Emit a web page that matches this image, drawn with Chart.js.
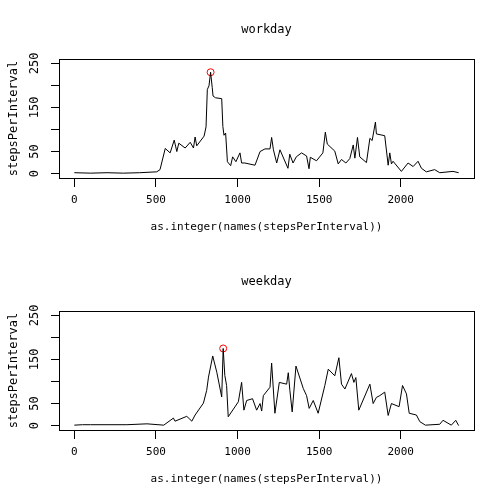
<!DOCTYPE html>
<html>
<head>
<script src="https://cdn.jsdelivr.net/npm/chart.js@4"></script>
<style>
body { margin: 0; background: #fff; }
.wrap { position: absolute; left: 0; width: 504px; height: 252px; }
</style>
</head>
<body>
<div class="wrap" style="top:0"><canvas id="c1"></canvas></div>
<div class="wrap" style="top:252px"><canvas id="c2"></canvas></div>
<script>
const FONT = "'DejaVu Sans Mono', monospace";

// interval ids and average steps
const workdayX = [0, 100, 200, 300, 400, 505, 525, 557, 587, 612, 628, 640, 679, 710, 730, 740, 750, 795, 807, 815, 825, 835, 845, 850, 865, 903, 910, 917, 927, 938, 958, 970, 990, 1015, 1025, 1045, 1107, 1138, 1168, 1199, 1209, 1220, 1240, 1260, 1309, 1320, 1340, 1360, 1392, 1423, 1438, 1446, 1484, 1523, 1538, 1550, 1596, 1617, 1637, 1664, 1688, 1709, 1719, 1735, 1749, 1790, 1811, 1825, 1845, 1851, 1902, 1923, 1933, 1943, 1953, 2004, 2045, 2076, 2106, 2127, 2157, 2208, 2239, 2320, 2355];
const workdayY = [2, 1, 2, 1, 2, 4, 9, 57, 47, 76, 50, 69, 58, 71, 58, 83, 63, 85, 106, 191, 199, 230, 195, 176, 172, 170, 107, 87, 92, 27, 18, 38, 27, 47, 24, 24, 19, 50, 56, 56, 82, 54, 24, 54, 12, 44, 24, 38, 47, 40, 11, 37, 29, 47, 94, 67, 51, 22, 32, 24, 34, 65, 35, 82, 38, 25, 80, 75, 117, 90, 86, 19, 47, 22, 28, 5, 24, 16, 28, 12, 4, 9, 2, 5, 2];
const weekdayX = [0, 50, 100, 200, 322, 445, 548, 607, 617, 689, 720, 740, 791, 811, 822, 848, 873, 903, 912, 922, 933, 943, 1005, 1025, 1039, 1056, 1092, 1117, 1138, 1148, 1158, 1199, 1209, 1229, 1256, 1301, 1311, 1321, 1335, 1358, 1403, 1423, 1439, 1464, 1494, 1535, 1556, 1596, 1621, 1637, 1658, 1698, 1713, 1725, 1743, 1811, 1831, 1851, 1872, 1902, 1923, 1943, 1990, 2011, 2035, 2052, 2096, 2117, 2151, 2239, 2259, 2310, 2337, 2355];
const weekdayY = [1, 2, 2, 2, 2, 4, 1, 17, 10, 21, 10, 24, 51, 80, 110, 158, 121, 65, 175, 114, 91, 20, 54, 98, 35, 57, 61, 35, 50, 33, 68, 87, 142, 28, 98, 94, 120, 79, 31, 135, 84, 68, 39, 57, 28, 91, 128, 113, 154, 94, 83, 118, 98, 109, 35, 94, 50, 64, 68, 76, 23, 50, 43, 91, 72, 28, 24, 9, 1, 3, 12, 1, 12, 0];
const xTicks = [0, 500, 1000, 1500, 2000];
const yLabels = [0, 50, 150, 250];

const rFrame = {
    id: 'rFrame',
    afterDraw(chart) {
        const ctx = chart.ctx, a = chart.chartArea, y = chart.scales.y;
        ctx.save();
        ctx.strokeStyle = '#000';
        ctx.lineWidth = 1;
        ctx.strokeRect(a.left + 0.5, a.top + 0.5, a.right - a.left, a.bottom - a.top);
        ctx.fillStyle = '#000';
        ctx.font = '12px ' + FONT;
        ctx.textAlign = 'center';
        ctx.textBaseline = 'middle';
        ctx.fillText(chart.options.plugins.rTitle, (a.left + a.right) / 2, a.top - 29);
        yLabels.forEach(v => {
            ctx.save();
            ctx.translate(a.left - 24, y.getPixelForValue(v));
            ctx.rotate(-Math.PI / 2);
            ctx.fillText(String(v), 0, 0);
            ctx.restore();
        });
        ctx.save();
        ctx.translate(14, (a.top + a.bottom) / 2);
        ctx.rotate(-Math.PI / 2);
        ctx.fillText('stepsPerInterval', 0, 0);
        ctx.restore();
        ctx.restore();
    }
};

function panel(el, title, xs, ys) {
    const pts = xs.map((x, i) => ({ x: x, y: ys[i] }));
    const peak = pts.reduce((m, p) => p.y > m.y ? p : m, pts[0]);
    new Chart(el, {
        type: 'scatter',
        data: {
            datasets: [{
                data: pts,
                showLine: true,
                borderColor: '#000',
                borderWidth: 1,
                pointRadius: 0,
                tension: 0
            }, {
                data: [peak],
                pointRadius: 3.5,
                pointBorderColor: '#ff0000',
                pointBackgroundColor: 'rgba(0,0,0,0)',
                pointBorderWidth: 1
            }]
        },
        options: {
            responsive: true,
            maintainAspectRatio: false,
            animation: false,
            layout: { padding: { top: 59, right: 30, left: 0, bottom: 14 } },
            plugins: { legend: { display: false }, tooltip: { enabled: false }, rTitle: title },
            scales: {
                x: {
                    type: 'linear',
                    min: -94, max: 2449,
                    afterBuildTicks: s => { s.ticks = xTicks.map(v => ({ value: v })); },
                    afterFit: s => { s.height = 60; },
                    border: { display: false },
                    grid: { drawOnChartArea: false, tickLength: 9, color: '#000' },
                    ticks: { color: '#000', font: { family: FONT, size: 11 }, padding: 7, maxRotation: 0, callback: v => String(v) },
                    title: { display: true, text: 'as.integer(names(stepsPerInterval))', color: '#000', font: { family: FONT, size: 11 }, padding: { top: 4 } }
                },
                y: {
                    min: -10, max: 260,
                    afterBuildTicks: s => { s.ticks = [0, 50, 100, 150, 200, 250].map(v => ({ value: v })); },
                    afterFit: s => { s.width = 59; },
                    border: { display: false },
                    grid: { drawOnChartArea: false, tickLength: 8, color: '#000' },
                    ticks: { callback: () => '', padding: 0 }
                }
            }
        },
        plugins: [rFrame]
    });
}

panel(document.getElementById('c1'), 'workday', workdayX, workdayY);
panel(document.getElementById('c2'), 'weekday', weekdayX, weekdayY);
</script>
</body>
</html>
